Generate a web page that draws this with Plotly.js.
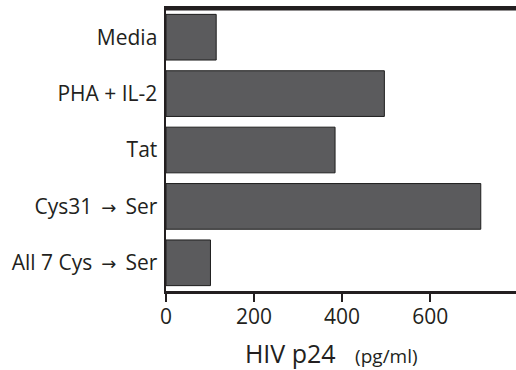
<!DOCTYPE html>
<html>
<head>
<meta charset="utf-8">
<script src="https://cdn.plot.ly/plotly-3.0.1.min.js"></script>
<style>html,body{margin:0;padding:0;background:#fff;}#chart{width:516px;height:370px;}</style>
</head>
<body>
<div id="chart"></div>
<script>
const categories = ["Media", "PHA + IL-2", "Tat", "Cys31 \u2192 Ser", "All 7 Cys \u2192 Ser"];
const p24Values = [114, 496, 384, 715, 101];
const xTickValues = [0, 200, 400, 600];
const xTitleMain = "HIV p24";
const xTitleUnit = "(pg/ml)";

const ink = "#231f20";
const arrowSpan = "\u00a0<span style='font-family:DejaVu Sans;font-size:18px'>\u202f\u2192\u202f</span>\u00a0";
const yTickText = categories.map(c => c.replace(" \u2192 ", arrowSpan));

const trace = {
  type: "bar",
  orientation: "h",
  x: p24Values,
  y: categories,
  marker: {color: "#5b5b5d", line: {color: "#1e1e1e", width: 1}},
  hoverinfo: "none"
};
const layout = {
  width: 516, height: 370,
  margin: {l: 166, r: 0, t: 9, b: 79},
  paper_bgcolor: "#fff", plot_bgcolor: "#fff",
  showlegend: false,
  bargap: 0.19,
  font: {family: "Open Sans, sans-serif", color: ink, size: 21},
  xaxis: {
    range: [0, 795],
    tickvals: xTickValues,
    ticks: "outside", ticklen: 8, tickwidth: 2, tickcolor: ink,
    showline: true, linewidth: 3, linecolor: ink, mirror: true,
    showgrid: false, zeroline: false,
    ticklabelstandoff: -3,
    tickfont: {size: 21, color: ink},
    title: {
      text: xTitleMain + " &nbsp; <span style='font-size:19px'>" + xTitleUnit + "</span>&nbsp;&nbsp;&nbsp;",
      font: {size: 25, color: ink}, standoff: 20
    }
  },
  yaxis: {
    type: "category",
    range: [4.5, -0.5],
    tickvals: categories,
    ticktext: yTickText,
    showline: true, linewidth: 2.5, linecolor: ink,
    showgrid: false, zeroline: false,
    ticks: "", ticklabelstandoff: 2,
    tickfont: {size: 21, color: ink}
  },
  shapes: [{
    type: "line", xref: "paper", yref: "paper",
    x0: 0, x1: 1, y0: 1, y1: 1,
    line: {color: ink, width: 3}
  }]
};
Plotly.newPlot("chart", [trace], layout, {staticPlot: true, displayModeBar: false});
</script>
</body>
</html>
